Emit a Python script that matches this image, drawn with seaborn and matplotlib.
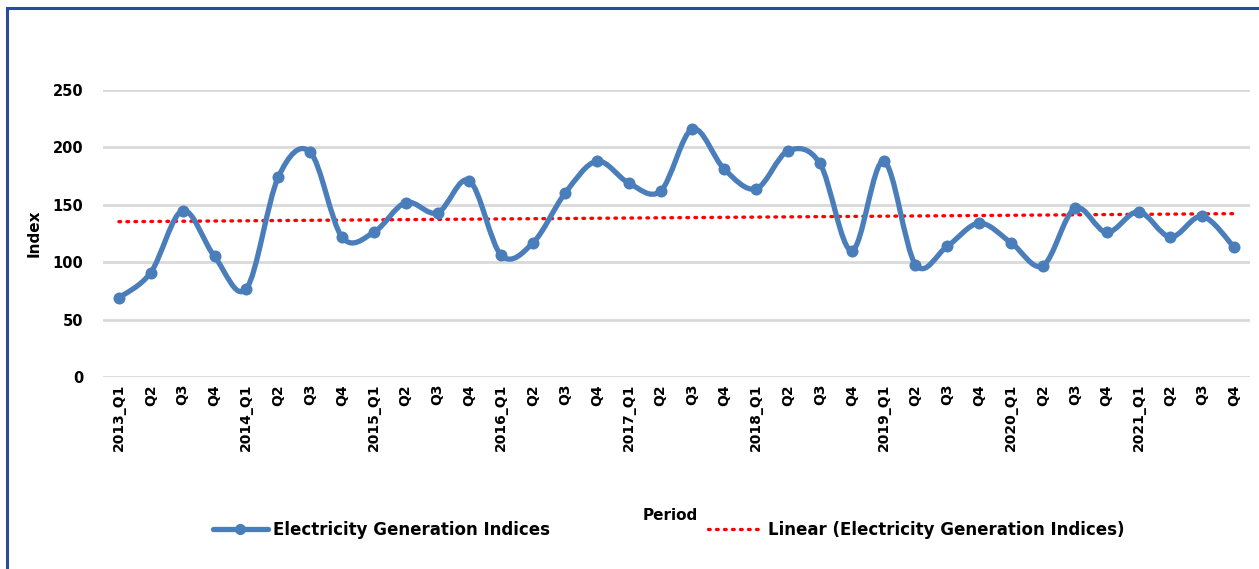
import numpy as np
import pandas as pd
import matplotlib
matplotlib.use('Agg')
import matplotlib.pyplot as plt
import seaborn as sns
from matplotlib.path import Path
from matplotlib.patches import PathPatch, Rectangle
from matplotlib.lines import Line2D

years = ['2013', '2014', '2015', '2016', '2017', '2018', '2019', '2020', '2021']
quarters = ['Q1', 'Q2', 'Q3', 'Q4']
index_values = [69, 91, 145, 105,
                77, 174, 196, 122,
                126, 152, 143, 171,
                106, 117, 160, 188,
                169, 162, 216, 181,
                164, 197, 186, 110,
                188, 98, 114, 134,
                117, 97, 147, 126,
                144, 122, 140, 113]
# excel linear trend line, value at first and last quarter
trend_ends = [135.3, 142.3]

tick_labels = []
for y in years:
    for q in quarters:
        tick_labels.append(y + '_' + q if q == 'Q1' else q)

df = pd.DataFrame({'pos': np.arange(len(index_values)), 'Index': index_values})
n = len(df)
trend = pd.DataFrame({'pos': [0, n - 1], 'trend': trend_ends})

sns.set_style('white')
plt.rcParams['font.family'] = ['DejaVu Sans']
plt.rcParams.update({'text.color': 'black', 'axes.labelcolor': 'black',
                     'xtick.color': 'black', 'ytick.color': 'black'})

blue = '#4A7EBB'
fig = plt.figure(figsize=(12.59, 5.69), dpi=100)
ax = fig.add_axes([0.0818, 0.3374, 0.9111, 0.5044])

# smoothed line like excel (bezier through the points)
pts = df[['pos', 'Index']].to_numpy(dtype=float)
verts = [pts[0]]
codes = [Path.MOVETO]
for i in range(n - 1):
    p_prev = pts[max(i - 1, 0)]
    p0 = pts[i]
    p1 = pts[i + 1]
    p_next = pts[min(i + 2, n - 1)]
    c1 = p0 + (p1 - p_prev) / 6
    c2 = p1 - (p_next - p0) / 6
    verts += [c1, c2, p1]
    codes += [Path.CURVE4] * 3
ax.add_patch(PathPatch(Path(verts, codes), facecolor='none', edgecolor=blue,
                       lw=3.8, capstyle='round', joinstyle='round', zorder=3))
sns.scatterplot(data=df, x='pos', y='Index', color=blue, s=75, linewidth=0, ax=ax, zorder=4)

sns.lineplot(data=trend, x='pos', y='trend', color='#FF0000', lw=2.4,
             linestyle=(0, (0.5, 1.9)), dash_capstyle='round', ax=ax, zorder=2)

ax.set_xlim(-0.5, n - 0.5)
ax.set_ylim(0, 250)
ax.set_yticks([0, 50, 100, 150, 200, 250])
ax.set_xticks(df['pos'])
ax.set_xticklabels(tick_labels, rotation=90, fontsize=10, fontweight='bold')
for t in ax.get_yticklabels():
    t.set_fontsize(10.5)
    t.set_fontweight('bold')
ax.tick_params(axis='x', length=0, pad=5)
ax.tick_params(axis='y', length=0, pad=14)
ax.grid(axis='y', color='#D9D9D9', lw=2)
ax.set_axisbelow(True)
for s in ax.spines.values():
    s.set_visible(False)
ax.set_ylabel('Index', fontsize=11, fontweight='bold', labelpad=8)
ax.set_xlabel('')
fig.text(0.532, 1 - 515 / 569, 'Period', ha='center', va='center', fontsize=11, fontweight='bold')

handles = [Line2D([], [], color=blue, lw=3.8, marker='o', markersize=7),
           Line2D([], [], color='#FF0000', lw=2.4, linestyle=(0, (0.5, 1.9)), dash_capstyle='round')]
fig.legend(handles, ['Electricity Generation Indices', 'Linear (Electricity Generation Indices)'],
           loc='center', bbox_to_anchor=(0.531, 1 - 530 / 569), ncol=2, frameon=False,
           prop={'size': 12, 'weight': 'bold'}, handlelength=3.3, handletextpad=0.3,
           columnspacing=9.5)

fig.patches.append(Rectangle((6.5 / 1259, -0.1), 1.2, 1.1 - 7.5 / 569, transform=fig.transFigure,
                             fill=False, edgecolor='#2C4A9C', lw=2.2, zorder=10))

fig.savefig('out.png', dpi=100)
